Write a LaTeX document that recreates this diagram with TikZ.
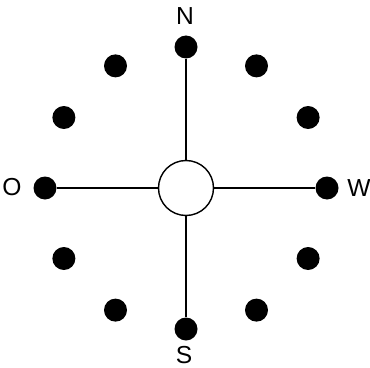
\documentclass[tikz,border=0pt]{standalone}
\usepackage{fontspec}
\setsansfont{Liberation Sans}
\begin{document}
\begin{tikzpicture}[x=0.03cm, y=-0.03cm,
  font=\sffamily\fontsize{21}{24}\selectfont,
  hub/.style={draw, circle, line width=1.2pt, minimum size=1.65cm, inner sep=0pt},
  dot/.style={circle, fill, minimum size=0.69cm, inner sep=0pt},
  spoke/.style={line width=1pt}]

\useasboundingbox (0,0) rectangle (370,367);

% ---- the centre and the ring of twelve -------------------------------------------
\node[hub] (c) at (186,188) {};
\foreach \a in {0,30,...,330}
  \node[dot] (p\a) at ({186+141*cos(\a)},{188-141*sin(\a)}) {};

% ---- the four spokes -------------------------------------------------------------
\foreach \a in {0,90,180,270}
  \draw[spoke] (c) -- (p\a);

% ---- the compass letters ---------------------------------------------------------
\node[inner sep=1pt] (n) at (185,16) {N};
\node[inner sep=1pt] (s) at (184,355) {S};
\node[inner sep=1pt] (o) at (12,187) {O};
\node[inner sep=1pt] (w) at (359,188) {W};

\end{tikzpicture}
\end{document}
